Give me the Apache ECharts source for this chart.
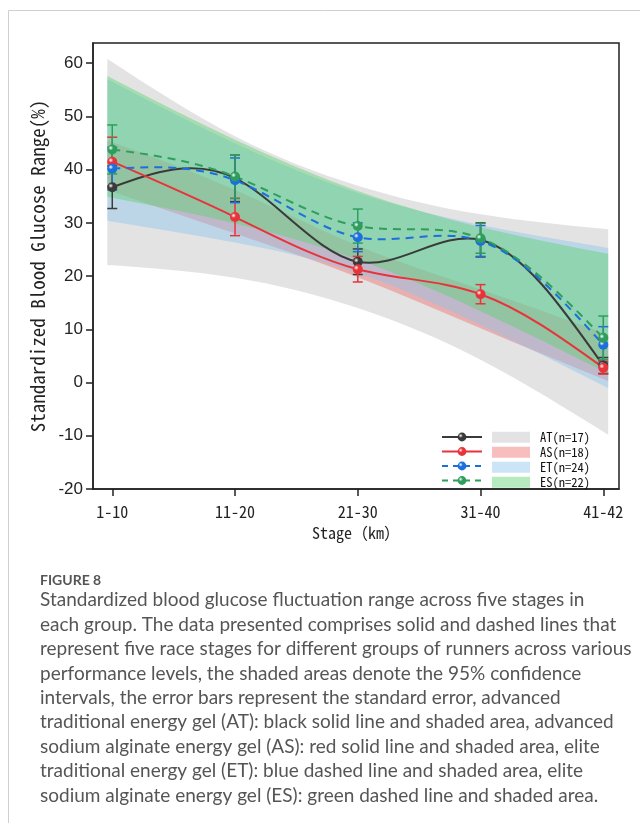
<!DOCTYPE html>
<html>
<head>
<meta charset="utf-8">
<title>Figure 8</title>
<script src="https://cdn.jsdelivr.net/npm/echarts@6/dist/echarts.min.js"></script>
<style>
html, body { margin: 0; padding: 0; background: #fff; }
#main { width: 640px; height: 823px; }
</style>
</head>
<body>
<div id="main"></div>
<script>
// stages and axis ticks
var stages = ['1-10', '11-20', '21-30', '31-40', '41-42'];
var stageX = [0, 1, 2, 3, 4];
var yTicks = [-20, -10, 0, 10, 20, 30, 40, 50, 60];

// group means and standard errors
var atMean = [36.7, 38.4, 22.7, 26.8, 3.2];
var atSE = [4.0, 4.4, 2.4, 3.2, 1.5];
var asMean = [41.5, 31.1, 21.3, 16.6, 2.8];
var asSE = [4.6, 3.5, 2.4, 1.8, 1.2];
var etMean = [40.2, 38.0, 27.3, 26.6, 7.1];
var etSE = [4.0, 4.2, 2.7, 2.9, 3.4];
var esMean = [43.8, 38.7, 29.4, 27.1, 8.4];
var esSE = [4.6, 4.1, 3.2, 2.8, 4.1];

// 95% confidence bands (read at band x positions)
var bandX = [-0.04, 1, 2, 3, 4.04];
var atUpper = [60.8, 46.3, 37.0, 31.6, 28.8];
var atLower = [22.1, 19.7, 14.0, 4.3, -9.8];
var asUpper = [45.5, 36.2, 25.7, 17.5, 9.0];
var asLower = [36.2, 28.0, 19.8, 10.2, 0.3];
var etUpper = [57.0, 44.9, 35.6, 29.6, 25.3];
var etLower = [30.4, 26.3, 20.6, 10.8, -1.0];
var esUpper = [57.6, 45.6, 36.0, 29.2, 24.2];
var esLower = [34.9, 29.9, 23.1, 13.4, 1.7];

var groupNames = ['AT', 'AS', 'ET', 'ES'];
var bandNames = ['AT(n=17)', 'AS(n=18)', 'ET(n=24)', 'ES(n=22)'];

var captionLines = [
    'Standardized blood glucose fluctuation range across five stages in',
    'each group. The data presented comprises solid and dashed lines that',
    'represent five race stages for different groups of runners across various',
    'performance levels, the shaded areas denote the 95% confidence',
    'intervals, the error bars represent the standard error, advanced',
    'traditional energy gel (AT): black solid line and shaded area, advanced',
    'sodium alginate energy gel (AS): red solid line and shaded area, elite',
    'traditional energy gel (ET): blue dashed line and shaded area, elite',
    'sodium alginate energy gel (ES): green dashed line and shaded area.'
];

var mono = "'Noto Sans Mono CJK SC', 'Noto Sans CJK SC', 'DejaVu Sans Mono', monospace";
var lineColors = ['#3a3a3a', '#e8333b', '#1d6fdc', '#2f9e5c'];
var bandColors = ['rgba(200,200,200,0.5)', 'rgba(240,110,110,0.45)', 'rgba(140,195,235,0.45)', 'rgba(90,210,110,0.45)'];
var dash = [8, 6];

function sphere(c) {
    return {
        type: 'radial', x: 0.35, y: 0.35, r: 0.7,
        colorStops: [{offset: 0, color: '#ffffff'}, {offset: 0.35, color: c}, {offset: 1, color: c}]
    };
}

// natural cubic spline through pixel points, returned as bezier segments
function splineSegs(pts) {
    var n = pts.length, h = [], M = [], i;
    for (i = 0; i < n; i++) M[i] = 0;
    for (i = 0; i < n - 1; i++) h[i] = pts[i + 1][0] - pts[i][0];
    var b = [], c = [], d = [];
    for (i = 1; i < n - 1; i++) {
        b[i] = 2 * (h[i - 1] + h[i]);
        c[i] = h[i];
        d[i] = 6 * ((pts[i + 1][1] - pts[i][1]) / h[i] - (pts[i][1] - pts[i - 1][1]) / h[i - 1]);
    }
    for (i = 2; i < n - 1; i++) {
        var w = h[i - 1] / b[i - 1];
        b[i] -= w * c[i - 1];
        d[i] -= w * d[i - 1];
    }
    for (i = n - 2; i >= 1; i--) M[i] = (d[i] - c[i] * M[i + 1]) / b[i];
    var m = [];
    for (i = 0; i < n - 1; i++) m[i] = (pts[i + 1][1] - pts[i][1]) / h[i] - h[i] * (2 * M[i] + M[i + 1]) / 6;
    m[n - 1] = (pts[n - 1][1] - pts[n - 2][1]) / h[n - 2] + h[n - 2] * (M[n - 2] + 2 * M[n - 1]) / 6;
    var s = '';
    for (i = 0; i < n - 1; i++) {
        s += ' C' + (pts[i][0] + h[i] / 3) + ' ' + (pts[i][1] + m[i] * h[i] / 3) + ' ' +
            (pts[i + 1][0] - h[i] / 3) + ' ' + (pts[i + 1][1] - m[i + 1] * h[i] / 3) + ' ' +
            pts[i + 1][0] + ' ' + pts[i + 1][1];
    }
    return s;
}

function bandSeries(name, upper, lower, color) {
    return {
        name: name, type: 'custom', silent: true, z: 1,
        itemStyle: {color: color},
        data: bandX.map(function (x, i) { return [x, upper[i], lower[i]]; }),
        encode: {x: 0, y: [1, 2]},
        renderItem: function (params, api) {
            if (params.dataIndex !== 0) return null;
            var up = [], lo = [];
            for (var i = 0; i < params.dataInsideLength; i++) {
                up.push(api.coord([api.value(0, i), api.value(1, i)]));
                lo.push(api.coord([api.value(0, i), api.value(2, i)]));
            }
            lo.reverse();
            var p = 'M' + up[0][0] + ' ' + up[0][1] + splineSegs(up) +
                ' L' + lo[0][0] + ' ' + lo[0][1] + splineSegs(lo) + ' Z';
            return {type: 'path', shape: {pathData: p}, style: {fill: color, stroke: null}};
        }
    };
}

function curveSeries(name, mean, color, dashed) {
    return {
        name: name + '_curve', type: 'custom', silent: true, z: 4,
        data: stageX.map(function (x, i) { return [x, mean[i]]; }),
        encode: {x: 0, y: 1},
        renderItem: function (params, api) {
            if (params.dataIndex !== 0) return null;
            var pts = [];
            for (var i = 0; i < params.dataInsideLength; i++) {
                pts.push(api.coord([api.value(0, i), api.value(1, i)]));
            }
            var p = 'M' + pts[0][0] + ' ' + pts[0][1] + splineSegs(pts);
            return {
                type: 'path', shape: {pathData: p},
                style: {fill: null, stroke: color, lineWidth: 2, lineDash: dashed ? dash : null}
            };
        }
    };
}

function markerSeries(name, mean, color) {
    return {
        name: name, type: 'line',
        data: stageX.map(function (x, i) { return [x, mean[i]]; }),
        symbol: 'circle', symbolSize: 10,
        lineStyle: {opacity: 0, color: color},
        itemStyle: {color: sphere(color)}, z: 6
    };
}

function errorSeries(name, mean, se, color) {
    return {
        name: name + '_se', type: 'custom', z: 5, silent: true,
        data: stageX.map(function (x, i) { return [x, mean[i], se[i]]; }),
        encode: {x: 0, y: 1},
        renderItem: function (params, api) {
            var x = api.value(0), m = api.value(1), s = api.value(2);
            var top = api.coord([x, m + s]);
            var bot = api.coord([x, m - s]);
            var w = 5;
            var st = {stroke: color, lineWidth: 1.5};
            return {
                type: 'group', children: [
                    {type: 'line', shape: {x1: top[0], y1: top[1], x2: bot[0], y2: bot[1]}, style: st},
                    {type: 'line', shape: {x1: top[0] - w, y1: top[1], x2: top[0] + w, y2: top[1]}, style: st},
                    {type: 'line', shape: {x1: bot[0] - w, y1: bot[1], x2: bot[0] + w, y2: bot[1]}, style: st}
                ]
            };
        }
    };
}

var means = [atMean, asMean, etMean, esMean];
var ses = [atSE, asSE, etSE, esSE];
var uppers = [atUpper, asUpper, etUpper, esUpper];
var lowers = [atLower, asLower, etLower, esLower];

var series = [];
for (var g = 0; g < 4; g++) series.push(bandSeries(bandNames[g], uppers[g], lowers[g], bandColors[g]));
for (g = 0; g < 4; g++) series.push(curveSeries(groupNames[g], means[g], lineColors[g], g >= 2));
for (g = 0; g < 4; g++) series.push(errorSeries(groupNames[g], means[g], ses[g], lineColors[g]));
for (g = 0; g < 4; g++) series.push(markerSeries(groupNames[g], means[g], lineColors[g]));

var chart = echarts.init(document.getElementById('main'), null, {renderer: 'canvas'});

var option = {
    animation: false,
    backgroundColor: '#fff',
    grid: {left: 93, right: 21, top: 43, bottom: 334, show: true, borderColor: '#222', borderWidth: 1.5},
    xAxis: {
        type: 'value', min: -0.157, max: 4.128,
        splitLine: {show: false},
        axisLine: {show: true, onZero: false, lineStyle: {color: '#222', width: 1.5}},
        axisTick: {show: true, length: 7, customValues: stageX, lineStyle: {color: '#222', width: 1.5}},
        axisLabel: {
            customValues: stageX, margin: 15, fontFamily: mono, fontSize: 16, color: '#222',
            formatter: function (v) { return stages[Math.round(v)]; }
        },
        name: 'Stage（km）', nameLocation: 'middle', nameGap: 36,
        nameTextStyle: {fontFamily: mono, fontSize: 16, color: '#222'}
    },
    yAxis: {
        type: 'value', min: -20, max: 63.8,
        splitLine: {show: false},
        axisLine: {show: true, onZero: false, lineStyle: {color: '#222', width: 1.5}},
        axisTick: {show: true, length: 7, customValues: yTicks, lineStyle: {color: '#222', width: 1.5}},
        axisLabel: {customValues: yTicks, margin: 10, fontFamily: 'Liberation Sans', fontSize: 17, color: '#222'},
        name: 'Standardized Blood Glucose Range(%)', nameLocation: 'middle', nameGap: 32,
        nameTextStyle: {fontFamily: mono, fontSize: 19, color: '#222'}
    },
    legend: [{
        data: groupNames.map(function (n, i) {
            return {name: n, lineStyle: {opacity: 1, color: lineColors[i], width: 2, type: i >= 2 ? [6, 5] : 'solid'}};
        }),
        left: 441, top: 431, orient: 'vertical', padding: 0,
        itemWidth: 40, itemHeight: 11, itemGap: 2.5, selectedMode: false,
        formatter: function () { return ' '; },
        textStyle: {fontSize: 12, lineHeight: 11}
    }, {
        data: bandNames.map(function (n, i) { return {name: n, icon: 'rect', itemStyle: {color: bandColors[i]}}; }),
        left: 492, top: 431, orient: 'vertical', padding: 0,
        itemWidth: 38, itemHeight: 11, itemGap: 2.5, selectedMode: false,
        textStyle: {fontFamily: mono, fontSize: 12.5, lineHeight: 11, color: '#111', padding: [0, 0, 0, 5]}
    }],
    graphic: [
        {type: 'line', shape: {x1: 8.5, y1: 10.5, x2: 640, y2: 10.5}, style: {stroke: '#cfcfcf', lineWidth: 1}},
        {type: 'line', shape: {x1: 8.5, y1: 10.5, x2: 8.5, y2: 823}, style: {stroke: '#cfcfcf', lineWidth: 1}},
        {type: 'text', left: 40, top: 573, style: {text: 'FIGURE 8', font: 'bold 14px Lato', fill: '#555'}},
        {type: 'text', left: 40, top: 588, style: {text: captionLines.join('\n'), fontFamily: 'Lato', fontSize: 19, lineHeight: 24.4, fill: '#555'}}
    ],
    series: series
};

chart.setOption(option);
</script>
</body>
</html>
